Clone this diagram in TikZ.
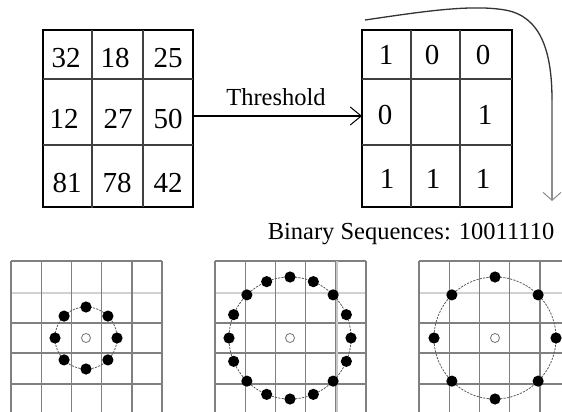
\documentclass[tikz,border=0pt]{standalone}
\usepackage{fontspec}
\setmainfont{Liberation Serif}
\usetikzlibrary{arrows.meta,calc}
\begin{document}
\begin{tikzpicture}[x=1pt,y=-1pt,
  mbox/.style={draw=black, line width=1.5pt, minimum width=150pt, minimum height=177pt, inner sep=0pt, outer sep=0pt},
  inner/.style={line width=1.3pt, draw=black!75},
  num/.style={anchor=base, inner sep=0pt, font=\fontsize{29}{29}\selectfont},
  lbl/.style={anchor=base, inner sep=0pt, font=\fontsize{24.5}{25}\selectfont},
  gridline/.style={draw=black!50, line width=1.4pt},
  lightline/.style={draw=black!18, line width=2.5pt},
  ring/.style={draw=black!65, line width=0.8pt, dash pattern=on 2.2pt off 1.2pt},
  dot/.style={fill=black},
  ctr/.style={draw=black!55, line width=0.8pt, fill=white}
]
\useasboundingbox (0,0) rectangle (562,412);

% ---- top matrices ----
\node[mbox] (L) at (118,118.5) {};
\node[mbox] (R) at (437,118.5) {};
\draw[inner] (92,30) -- (92,208);
\draw[inner] (143,30) -- (143,207);
\draw[inner] (43,79) -- (193,79);
\draw[inner] (43,145) -- (193,145);
\draw[inner] (411,30) -- (411,207);
\draw[inner] (460,30) -- (460,207);
\draw[inner] (362,79) -- (512,79);
\draw[inner] (362,145) -- (512,145);

\node[num] (a11) at (66,67) {32};
\node[num] (a12) at (115,67) {18};
\node[num] (a13) at (168,67) {25};
\node[num] (a21) at (64,128) {12};
\node[num] (a22) at (118,128) {27};
\node[num] (a23) at (168,128) {50};
\node[num] (a31) at (67,192) {81};
\node[num] (a32) at (117,192) {78};
\node[num] (a33) at (168,192) {42};

\node[num] (b11) at (386,65) {1};
\node[num] (b12) at (432,65) {0};
\node[num] (b13) at (483,65) {0};
\node[num] (b21) at (385,124) {0};
\node[num] (b23) at (485,124) {1};
\node[num] (b31) at (387,188) {1};
\node[num] (b32) at (433,188) {1};
\node[num] (b33) at (483,188) {1};

% threshold arrow
\draw[line width=1.4pt, -{Straight Barb[length=11pt,width=18pt,line width=1pt]}]
  ([yshift=2.5pt]L.east) -- ([yshift=2.5pt]R.west);
\node[lbl] (thr) at (276,105) {Threshold};

% curved arrow
\coordinate (cs) at (365,20);
\coordinate (cm) at (552,100);
\coordinate (ce) at (552,201);
\draw[draw=black!80, line width=1.3pt] (cs) .. controls (420,12) and (470,4) .. (505,10)
  .. controls (540,16) and (552,50) .. (cm);
\draw[draw=black!45, line width=1.5pt, -{Straight Barb[length=8pt,width=18pt,line width=1pt]}] (cm) -- (ce);

\node[lbl] (bin) at (411,239) {Binary Sequences: 10011110};

% ---- bottom grids ----
\begin{scope}
\clip (0,0) rectangle (562,412);
\foreach \gx in {11,215,419}{
  \draw[lightline] (\gx,293) -- ({\gx+151},293);
  \foreach \i in {0,...,5}{
    \draw[gridline] ({\gx+30.2*\i},261) -- ({\gx+30.2*\i},412);
  }
  \foreach \yy in {261,323,353,384}{
    \draw[gridline] (\gx,\yy) -- ({\gx+151},\yy);
  }
}
\draw[draw=black!22, line width=2.6pt] (337,261) -- (337,412);
\end{scope}

% circles
\coordinate (c1) at (86,338);
\coordinate (c2) at (290,338);
\coordinate (c3) at (495,338);
\draw[ring] (c1) circle[radius=31];
\draw[ring] (c2) circle[radius=61];
\draw[ring] (c3) circle[radius=61];
\foreach \a in {0,45,...,315}{
  \fill[dot] ($(c1)+(\a:31)$) circle[radius=5.6];
  \fill[dot] ($(c3)+(\a:61)$) circle[radius=5.6];
}
\foreach \a in {0,22.5,...,337.5}{
  \fill[dot] ($(c2)+(\a:61)$) circle[radius=5.6];
}
\draw[ctr] (c1) circle[radius=4.5];
\draw[ctr] (c2) circle[radius=4.5];
\draw[ctr] (c3) circle[radius=4.5];
\end{tikzpicture}
\end{document}
